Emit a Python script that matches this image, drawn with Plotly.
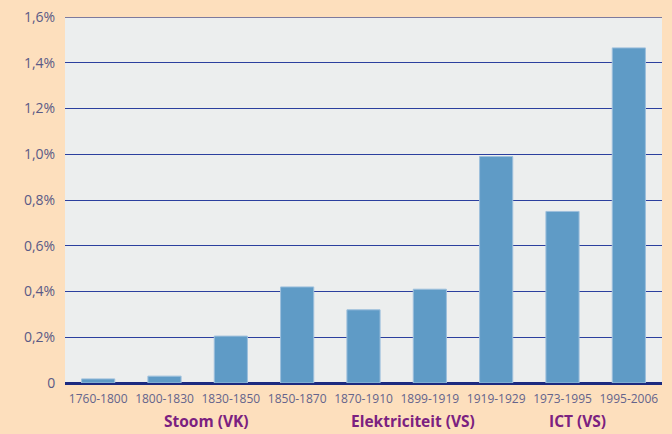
import plotly.graph_objects as go

categories = ["1760-1800", "1800-1830", "1830-1850", "1850-1870", "1870-1910",
              "1899-1919", "1919-1929", "1973-1995", "1995-2006"]
values = [0.018, 0.03, 0.205, 0.42, 0.32, 0.41, 0.99, 0.75, 1.465]
tick_vals = [0, 0.2, 0.4, 0.6, 0.8, 1.0, 1.2, 1.4, 1.6]
tick_text = ["0", "0,2%", "0,4%", "0,6%", "0,8%", "1,0%", "1,2%", "1,4%", "1,6%"]
group_labels = ["Stoom (VK)", "Elektriciteit (VS)", "ICT (VS)"]
group_pos = [1.64, 4.74, 7.22]

fig = go.Figure()
fig.add_trace(go.Bar(
    x=categories, y=values,
    marker=dict(color="#5f9bc6", line=dict(color="#9dbfdc", width=1)),
    width=0.5,
))

for lab, pos in zip(group_labels, group_pos):
    fig.add_annotation(x=pos, y=0, xref="x", yref="paper", yshift=-51,
                       text="<b>" + lab + "</b>", showarrow=False,
                       font=dict(family="Open Sans", size=15.5, color="#7b2180"))

fig.add_shape(type="line", xref="paper", yref="y", x0=0, x1=1, y0=1.6, y1=1.6,
              line=dict(color="#7d7a9e", width=2), layer="above")

fig.update_layout(
    width=672, height=434,
    paper_bgcolor="#fddfbd", plot_bgcolor="#eceeee",
    margin=dict(l=65, r=10, t=17, b=51, autoexpand=False),
    showlegend=False,
    font=dict(family="Open Sans", color="#5a5a86"),
    xaxis=dict(tickfont=dict(size=12, color="#64648c"), showgrid=False,
               ticks="outside", ticklen=5, tickcolor="rgba(0,0,0,0)",
               showline=False, automargin=False),
    yaxis=dict(range=[0, 1.6], tickvals=tick_vals, ticktext=tick_text,
               tickfont=dict(size=14, color="#5a5a86"),
               gridcolor="#2b3f9e", gridwidth=1.3, automargin=False,
               zeroline=True, zerolinecolor="#1c2a80", zerolinewidth=3,
               ticks="outside", ticklen=6, tickcolor="rgba(0,0,0,0)"),
    bargap=0.5,
)

fig.write_html("out.html", config={"displayModeBar": False},
               post_script="document.body.style.margin='0';document.body.style.padding='0';")
